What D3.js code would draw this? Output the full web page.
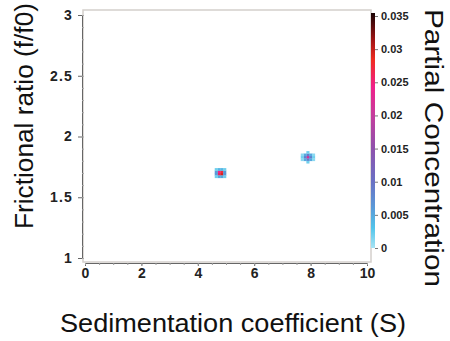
<!DOCTYPE html>
<html>
<head>
<meta charset="utf-8">
<script src="https://cdn.jsdelivr.net/npm/d3@7"></script>
<style>
  body { margin: 0; background: #fff; }
  svg text { font-family: "Liberation Sans", Arial, sans-serif; }
  .tick text { font-weight: bold; font-size: 14px; fill: #222; }
  .title { font-size: 25px; fill: #111; }
</style>
</head>
<body>
<svg id="chart" width="450" height="341"></svg>
<script>
// grid cells of the 2DSA distribution (s in S, f/f0, partial concentration)
const sedCoef = [
  4.75, 4.85, 4.75, 4.85,
  4.65, 4.65, 4.95, 4.95, 4.75, 4.85, 4.75, 4.85,
  4.65, 4.95, 4.65, 4.95,
  7.9,
  7.8, 8.0, 7.9, 7.9,
  7.8, 8.0, 7.8, 8.0,
  7.7, 8.1, 7.9, 7.9,
  7.7, 7.7, 8.1, 8.1
];
const fricRatio = [
  1.69, 1.69, 1.71, 1.71,
  1.69, 1.71, 1.69, 1.71, 1.67, 1.67, 1.73, 1.73,
  1.67, 1.67, 1.73, 1.73,
  1.83,
  1.83, 1.83, 1.81, 1.85,
  1.81, 1.81, 1.85, 1.85,
  1.83, 1.83, 1.79, 1.87,
  1.81, 1.85, 1.81, 1.85
];
const partialConc = [
  0.026, 0.029, 0.024, 0.027,
  0.006, 0.006, 0.006, 0.006, 0.005, 0.005, 0.004, 0.004,
  0.002, 0.002, 0.002, 0.002,
  0.022,
  0.009, 0.009, 0.009, 0.009,
  0.005, 0.005, 0.005, 0.005,
  0.002, 0.002, 0.002, 0.002,
  0.001, 0.001, 0.001, 0.001
];
const xTicks = [0, 2, 4, 6, 8, 10];
const yTicks = [1, 1.5, 2, 2.5, 3];
const cTicks = [0, 0.005, 0.01, 0.015, 0.02, 0.025, 0.03, 0.035];
const cStops = [0, 0.003, 0.006, 0.01, 0.015, 0.02, 0.024, 0.028, 0.031, 0.035];
const cColors = ["#a8e4f4", "#52c4ea", "#5a9ad8", "#6a70c4", "#9050ac", "#c83c9c", "#f0208a", "#f02c20", "#a01414", "#180404"];

const sStep = 0.1, fStep = 0.02;

const svg = d3.select("#chart");
const x = d3.scaleLinear().domain([0, 10]).range([85, 367]);
const y = d3.scaleLinear().domain([1, 3]).range([258, 15]);
const cy = d3.scaleLinear().domain([0, 0.035]).range([248, 16]);
const color = d3.scaleLinear().domain(cStops).range(cColors).clamp(true);

const defs = svg.append("defs");
defs.append("filter").attr("id", "soft")
  .append("feGaussianBlur").attr("stdDeviation", 0.5);

// plot frame
svg.append("rect")
  .attr("x", 83).attr("y", 10).attr("width", 288).attr("height", 252)
  .attr("fill", "#fff").attr("stroke", "#d4cfcc").attr("stroke-width", 1.5);

// cells
svg.append("g").attr("filter", "url(#soft)").selectAll("rect")
  .data(sedCoef.map((s, i) => ({ s, f: fricRatio[i], c: partialConc[i] })))
  .join("rect")
  .attr("x", d => x(d.s - sStep / 2))
  .attr("y", d => y(d.f + fStep / 2))
  .attr("width", x(sStep) - x(0) + 0.3)
  .attr("height", y(1) - y(1 + fStep) + 0.3)
  .attr("fill", d => color(d.c));

// x axis
svg.append("g")
  .attr("transform", "translate(0,263)")
  .call(d3.axisBottom(x).tickValues(xTicks).tickSize(3).tickPadding(2).tickFormat(d3.format("d")))
  .call(g => g.select(".domain").attr("stroke", "#666"))
  .call(g => g.selectAll(".tick line").attr("stroke", "#666"));
svg.append("g")
  .attr("transform", "translate(0,263)")
  .call(d3.axisBottom(x).tickValues(d3.range(0, 10.01, 0.5)).tickSize(2).tickFormat(""))
  .call(g => g.select(".domain").remove())
  .call(g => g.selectAll(".tick line").attr("stroke", "#999"));

// y axis
svg.append("g")
  .attr("transform", "translate(82,0)")
  .call(d3.axisLeft(y).tickValues(yTicks).tickSize(4).tickPadding(5).tickFormat(d => d))
  .call(g => g.select(".domain").attr("stroke", "#666"))
  .call(g => g.selectAll(".tick line").attr("stroke", "#666"))
  .call(g => g.selectAll(".tick text").style("letter-spacing", "1.2px"));
svg.append("g")
  .attr("transform", "translate(82,0)")
  .call(d3.axisRight(y).tickValues(d3.range(1, 3.001, 0.1)).tickSize(2).tickFormat(""))
  .call(g => g.select(".domain").remove())
  .call(g => g.selectAll(".tick line").attr("stroke", "#aaa"));

// colour bar
const grad = defs.append("linearGradient").attr("id", "cbar")
  .attr("x1", 0).attr("y1", 1).attr("x2", 0).attr("y2", 0);
grad.selectAll("stop").data(cStops).join("stop")
  .attr("offset", d => d / 0.035)
  .attr("stop-color", d => color(d));
svg.append("rect")
  .attr("x", 371).attr("y", cy(0.035) - 3).attr("width", 4)
  .attr("height", cy(0) - cy(0.035) + 3)
  .attr("fill", "url(#cbar)");
svg.append("g")
  .attr("transform", "translate(375,0)")
  .call(d3.axisRight(cy).tickValues(cTicks).tickSize(3).tickPadding(3).tickFormat(d => d))
  .call(g => g.select(".domain").remove())
  .call(g => g.selectAll(".tick line").attr("stroke", "#777"))
  .call(g => g.selectAll(".tick text").style("font-size", "11px"));

// titles
svg.append("text").attr("class", "title")
  .attr("transform", "translate(33,116) rotate(-90)")
  .attr("text-anchor", "middle")
  .attr("textLength", 226).attr("lengthAdjust", "spacingAndGlyphs")
  .text("Frictional ratio (f/f0)");
svg.append("text").attr("class", "title")
  .attr("x", 233).attr("y", 332)
  .attr("text-anchor", "middle")
  .attr("textLength", 346).attr("lengthAdjust", "spacingAndGlyphs")
  .text("Sedimentation coefficient (S)");
svg.append("text").attr("class", "title")
  .attr("transform", "translate(425,148) rotate(90)")
  .attr("text-anchor", "middle")
  .attr("textLength", 278).attr("lengthAdjust", "spacingAndGlyphs")
  .text("Partial Concentration");
</script>
</body>
</html>
